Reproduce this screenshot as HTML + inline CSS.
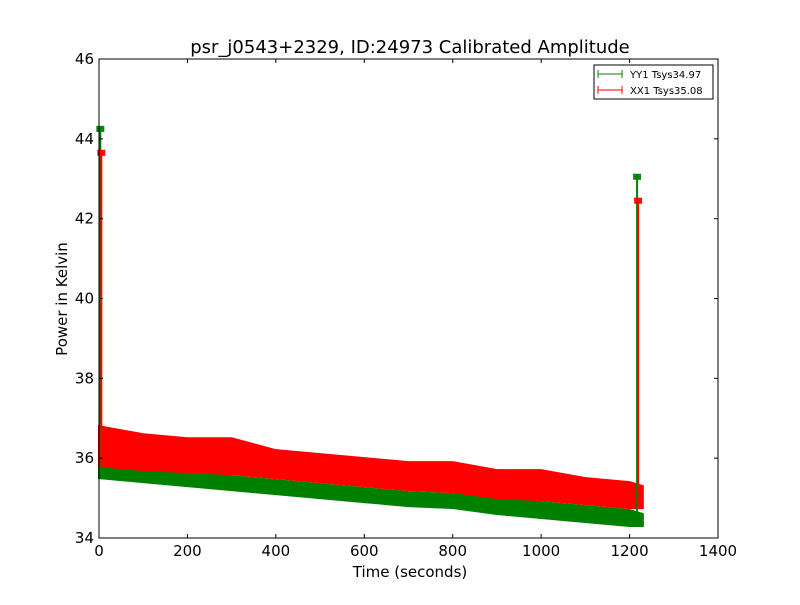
<!DOCTYPE html>
<html><head><meta charset="utf-8"><style>body{margin:0;background:#fff}svg text{font-family:"DejaVu Sans","Liberation Sans",sans-serif}</style></head>
<body>
<svg id="c" width="800" height="600" xmlns="http://www.w3.org/2000/svg">
<rect width="800" height="600" fill="#fff"/>
<g id="marks"></g>
<rect x="99" y="59" width="619" height="479" fill="none" stroke="#000" stroke-width="1"/>
<g id="axes"></g>
<text x="410" y="53" text-anchor="middle" font-size="18">psr_j0543+2329, ID:24973 Calibrated Amplitude</text>
<text x="410" y="577" text-anchor="middle" font-size="15">Time (seconds)</text>
<text x="67" y="299" text-anchor="middle" font-size="15" transform="rotate(-90 67 299)">Power in Kelvin</text>
<g>
<rect x="594" y="65" width="119" height="34" fill="#fff" stroke="#000"/>
<g><line x1="598" y1="74" x2="622" y2="74" stroke="green"/><line x1="598" y1="70" x2="598" y2="78" stroke="green"/><line x1="622" y1="70" x2="622" y2="78" stroke="green"/><text x="630" y="78" font-size="10">YY1 Tsys34.97</text></g>
<g><line x1="598" y1="90" x2="622" y2="90" stroke="red"/><line x1="598" y1="86" x2="598" y2="94" stroke="red"/><line x1="622" y1="86" x2="622" y2="94" stroke="red"/><text x="630" y="94" font-size="10">XX1 Tsys35.08</text></g>
</g>
</svg>
<script>
const times=[0,100,200,300,400,500,600,700,800,900,1000,1100,1200,1230];
const redUpper=[36.8,36.6,36.5,36.5,36.2,36.1,36.0,35.9,35.9,35.7,35.7,35.5,35.4,35.3];
const redLower=[35.8,35.7,35.65,35.6,35.5,35.4,35.3,35.2,35.15,35.0,34.95,34.85,34.75,34.75];
const greenUpper=[35.85,35.75,35.65,35.55,35.45,35.35,35.25,35.15,35.1,35.0,34.9,34.8,34.7,34.6];
const greenLower=[35.5,35.4,35.3,35.2,35.1,35.0,34.9,34.8,34.75,34.6,34.5,34.4,34.3,34.3];
const spikeTimes=[3,1217];
const greenSpikes=[44.3,43.1];
const redSpikes=[43.7,42.5];
const xTicks=[0,200,400,600,800,1000,1200,1400];
const yTicks=[34,36,38,40,42,44,46];
const X=t=>99+t*619/1400, Y=v=>538-(v-34)*479/12;
const NS="http://www.w3.org/2000/svg";
const mk=(tag,a,p)=>{const e=document.createElementNS(NS,tag);for(const k in a)e.setAttribute(k,a[k]);p.appendChild(e);return e;};
const marks=document.getElementById('marks'), axes=document.getElementById('axes');
function band(up,lo,col,name){
  let pts=times.map((t,i)=>X(t)+','+Y(up[i]));
  pts=pts.concat(times.map((t,i)=>X(t)+','+Y(lo[i])).reverse());
  const p=mk('polygon',{points:pts.join(' '),fill:col,stroke:col,'stroke-width':2},marks);
  
  
}
band(greenUpper,greenLower,'green','yy1-series-band');
band(redUpper,redLower,'red','xx1-series-band');
function spikes(vals,base,col,name){
  spikeTimes.forEach((t,i)=>{
    const g=mk('g',{},marks);
    
    
    const x=X(t)+(col==='red'?1:0);
    mk('line',{x1:x,x2:x,y1:Y(vals[i]),y2:Y(base[i===0?0:12]),stroke:col,'stroke-width':2},g);
    for(let k=0;k<3;k++){const yy=Y(vals[i]-k*0.05);
      mk('line',{x1:x-4,x2:x+4,y1:yy,y2:yy,stroke:col,'stroke-width':2},g);}
  });
}
spikes(greenSpikes,greenLower,'green','yy1-spike');
spikes(redSpikes,redLower,'red','xx1-spike');
xTicks.forEach(v=>{const x=X(v);
  mk('line',{x1:x,x2:x,y1:538,y2:534,stroke:'#000'},axes);mk('line',{x1:x,x2:x,y1:59,y2:63,stroke:'#000'},axes);
  const t=mk('text',{x:x,y:556,'text-anchor':'middle','font-size':15},axes);t.textContent=v;
  });
yTicks.forEach(v=>{const y=Y(v);
  mk('line',{x1:99,x2:103,y1:y,y2:y,stroke:'#000'},axes);mk('line',{x1:718,x2:714,y1:y,y2:y,stroke:'#000'},axes);
  const t=mk('text',{x:94,y:y+5,'text-anchor':'end','font-size':15},axes);t.textContent=v;
  });
</script>
</body></html>
